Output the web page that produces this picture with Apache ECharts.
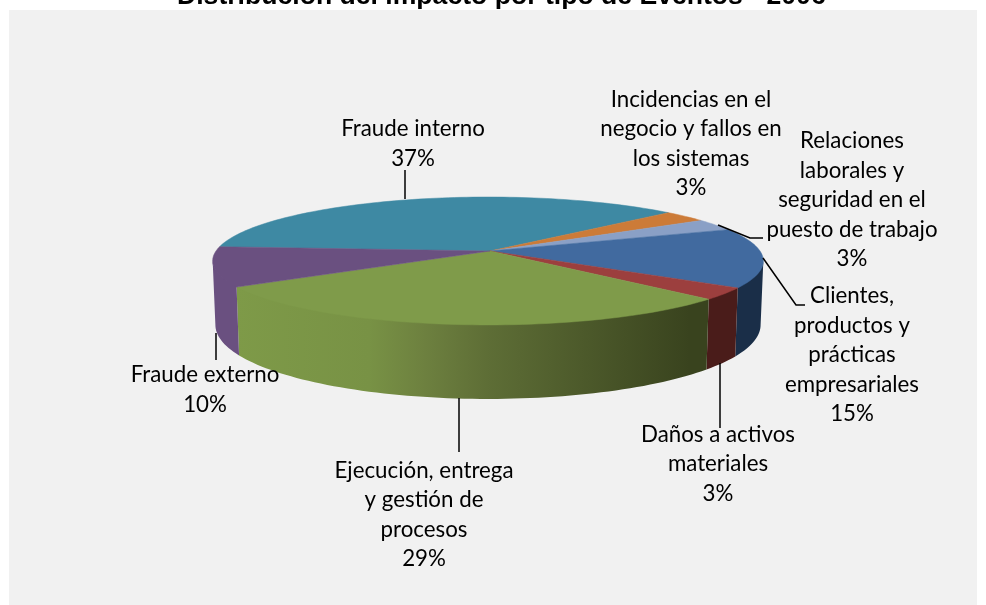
<!DOCTYPE html>
<html>
<head>
<meta charset="utf-8">
<style>
  html, body { margin: 0; padding: 0; background: #ffffff; }
  #chart { width: 986px; height: 605px; }
</style>
<script src="https://cdn.jsdelivr.net/npm/echarts@6/dist/echarts.min.js"></script>
</head>
<body>
<div id="chart"></div>
<script>
  // datos
  var titleText = 'Distribución del impacto por tipo de Eventos - 2006';
  var categories = [
    'Fraude interno',
    'Incidencias en el\nnegocio y fallos en\nlos sistemas',
    'Relaciones\nlaborales y\nseguridad en el\npuesto de trabajo',
    'Clientes,\nproductos y\nprácticas\nempresariales',
    'Daños a activos\nmateriales',
    'Ejecución, entrega\ny gestión de\nprocesos',
    'Fraude externo'
  ];
  var values = [37, 3, 3, 15, 3, 29, 10];

  var topColors = ['#3E89A3', '#CC7B38', '#8AA0C6', '#416A9F', '#9C3F3E', '#7F9B4A', '#6A5080'];
  var wallColors = ['#2A5C6E', '#8A5226', '#5D6C86', '#1A2E48', '#4A1C1A', null, '#6A5080'];

  // centro de cada etiqueta y tramos de las lineas guia
  var labelPos = [[413, 144], [691, 144], [852, 200], [852, 355], [718, 464], [424, 515], [205, 390]];
  var leaders = [
    [[405, 170], [405, 199]],
    null,
    [[718, 225], [750, 238], [763, 238]],
    [[763, 258], [796, 305], [805, 305]],
    [[720, 363], [720, 428]],
    [[459, 398], [459, 452]],
    [[216, 333], [216, 360]]
  ];

  // proyeccion en perspectiva de la tarta
  var startDeg = 4;
  var cx = 488, cy = 251, apexX = 490;
  var rx = 272, ry = 62.4, persp = 0.156;
  var depthBase = 62, depthNear = 12, bottomScale = 0.99;
  var total = values.reduce(function (a, b) { return a + b; }, 0);

  function rimPoint(deg, level) {
    var t = deg * Math.PI / 180;
    var X = -Math.cos(t), Y = -Math.sin(t);
    var k = 1 - persp * Y;
    var px = rx * X / k, py = ry * Y / k;
    if (level === 'bottom') return [cx + px * bottomScale, cy + py + depthBase + depthNear * Y];
    // la pared sube 1px por debajo de la cara para que no quede una junta clara
    if (level === 'wallTop') return [cx + px, cy + py - 1];
    return [cx + px, cy + py];
  }

  function arcPoints(a0, a1, level) {
    var pts = [];
    var n = Math.max(2, Math.ceil((a1 - a0) / 1.5));
    for (var i = 0; i <= n; i++) pts.push(rimPoint(a0 + (a1 - a0) * i / n, level));
    return pts;
  }

  var angles = [];
  var acc = startDeg;
  values.forEach(function (v) {
    angles.push([acc, acc + v / total * 360]);
    acc += v / total * 360;
  });

  // la silueta de la pared empieza donde el borde llega a su x extrema
  var wallFrom = 180 + Math.asin(persp) * 180 / Math.PI;
  var wallTo = 540 - wallFrom;

  function renderSlice(params, api) {
    var i = params.dataIndex;
    var a0 = angles[i][0], a1 = angles[i][1];
    var children = [];

    var wa0 = Math.max(a0, wallFrom), wa1 = Math.min(a1, wallTo);
    if (wa1 > wa0) {
      var poly = arcPoints(wa0, wa1, 'wallTop').concat(arcPoints(wa0, wa1, 'bottom').reverse());
      var fill = wallColors[i];
      if (fill === null) {
        fill = new echarts.graphic.LinearGradient(0, 0, 1, 0, [
          { offset: 0, color: '#7E9A48' },
          { offset: 0.28, color: '#789245' },
          { offset: 0.4, color: '#6D803F' },
          { offset: 0.53, color: '#5E6E36' },
          { offset: 0.96, color: '#39431E' },
          { offset: 1, color: '#39431E' }
        ]);
      }
      children.push({ type: 'polygon', shape: { points: poly }, style: { fill: fill, stroke: null }, z2: 1 });
    }

    var top = [[apexX, cy]].concat(arcPoints(a0, a1, 'top'));
    children.push({
      type: 'polygon',
      shape: { points: top },
      style: { fill: topColors[i], stroke: topColors[i], lineWidth: 0.5 },
      z2: 2
    });

    if (leaders[i]) {
      children.push({
        type: 'polyline',
        shape: { points: leaders[i] },
        style: { stroke: '#000', lineWidth: 1.5, fill: null },
        z2: 3
      });
    }
    children.push({
      type: 'text',
      x: labelPos[i][0],
      y: labelPos[i][1],
      style: {
        text: categories[i] + '\n' + api.value(0) + '%',
        fill: '#000',
        font: '22.3px Lato',
        lineHeight: 29.4,
        align: 'center',
        verticalAlign: 'middle'
      },
      z2: 4
    });
    return { type: 'group', children: children };
  }

  var chart = echarts.init(document.getElementById('chart'));
  chart.setOption({
    animation: false,
    backgroundColor: '#ffffff',
    graphic: [{
      type: 'rect',
      shape: { x: 9, y: 10, width: 968, height: 595 },
      style: { fill: '#F1F1F1' },
      z: 1
    }],
    title: {
      text: titleText,
      left: 172,
      top: -22,
      textStyle: { fontFamily: 'Liberation Sans', fontWeight: 'bold', fontSize: 26.6, color: '#000' }
    },
    series: [{
      type: 'custom',
      coordinateSystem: 'none',
      z: 3,
      renderItem: renderSlice,
      data: values.map(function (v, i) { return { name: categories[i], value: [v] }; })
    }]
  });
</script>
</body>
</html>
